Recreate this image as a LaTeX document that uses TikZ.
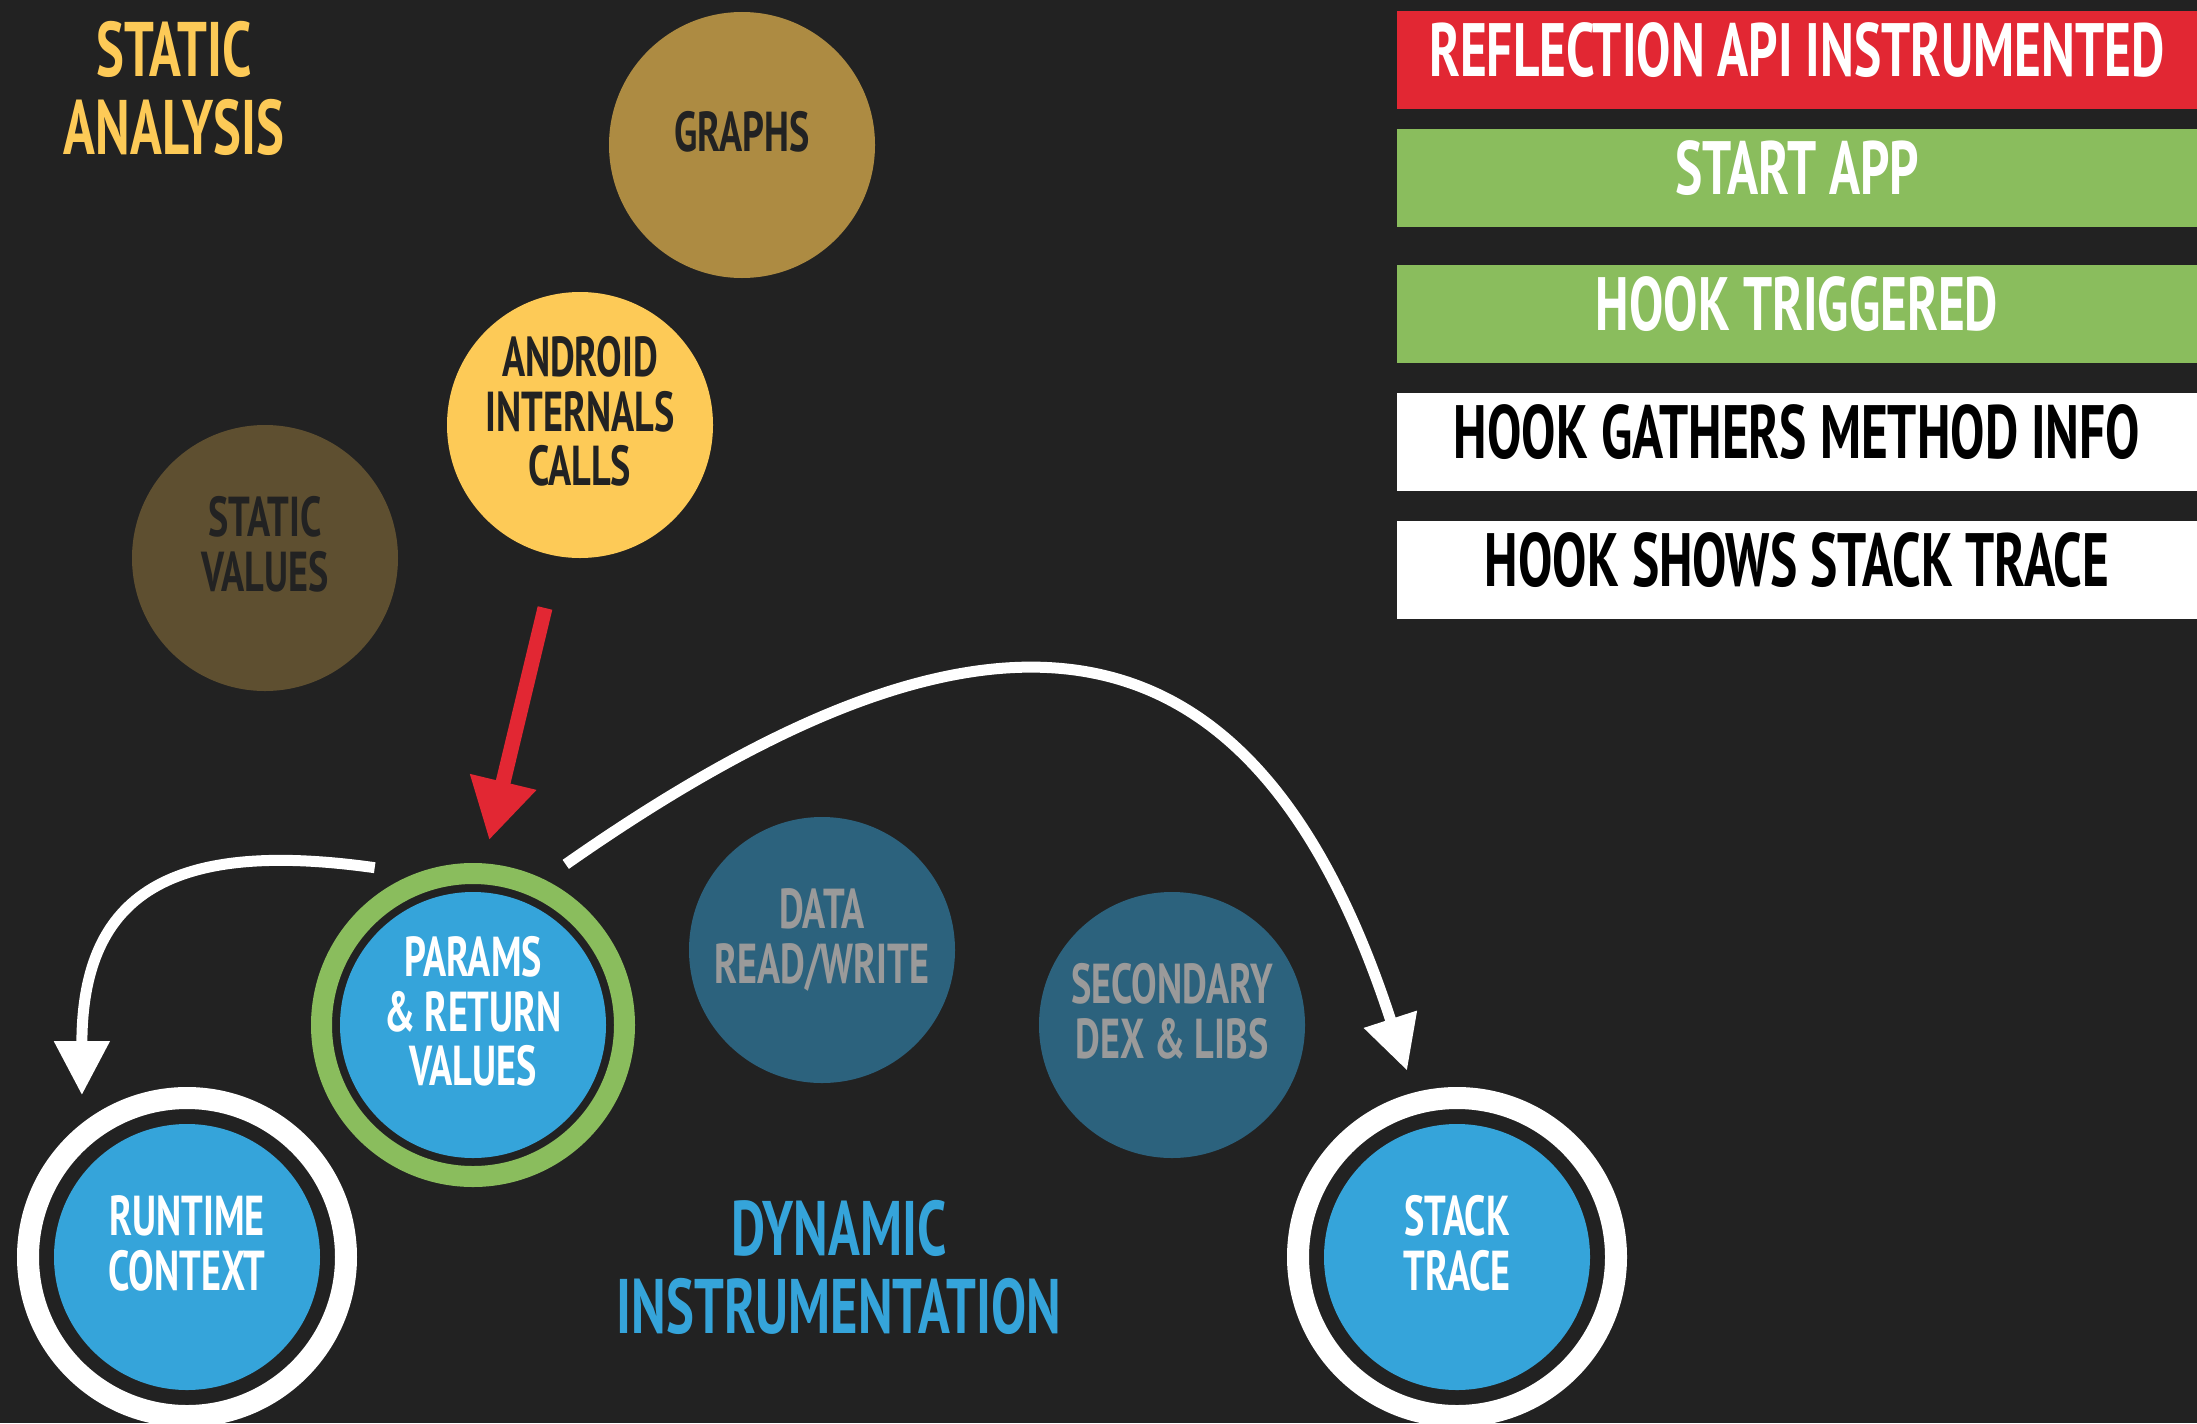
\documentclass[tikz,border=0pt]{standalone}
\usepackage{fontspec}
\setmainfont{PT Sans}[FakeStretch=0.68]
\usepackage{tikz}
\usetikzlibrary{arrows.meta, calc}

\definecolor{bg}{HTML}{222222}
\definecolor{sand}{HTML}{FDCA57}
\definecolor{ochre}{HTML}{AD8B42}
\definecolor{umber}{HTML}{5E4F30}
\definecolor{sky}{HTML}{35A4DA}
\definecolor{deepteal}{HTML}{2C627D}
\definecolor{alarm}{HTML}{E22733}
\definecolor{leaf}{HTML}{8ABD5D}
\definecolor{mist}{HTML}{9A9A9A}

\tikzset{
    bubble/.style={circle, minimum size=2.66cm, inner sep=0pt, align=center, text=bg, text depth=2.8mm,
        font=\bfseries\fontsize{16}{15.6}\selectfont},
    ring/.style={circle, draw=white, line width=2.2mm, minimum size=3.18cm, outer sep=3.4mm},
    banner/.style={minimum width=8cm, minimum height=0.98cm, inner sep=0pt, text depth=2mm,
        font=\bfseries\fontsize{21.5}{22}\selectfont},
    heading/.style={align=center, text depth=0pt, font=\bfseries\fontsize{22}{22.2}\selectfont},
    flow/.style={white, line width=1.1mm, -{Triangle[width=5.3mm,length=5.4mm]}},
}

\begin{document}
\begin{tikzpicture}
    \useasboundingbox (0,0) rectangle (21.97,-14.23);
    \fill[bg] (0,0) rectangle (21.97,-14.23);

    % static side
    \node[heading, text=sand] (static) at (1.74,-0.875) {STATIC\\ANALYSIS};
    \node[bubble, fill=ochre] (graphs) at (7.42,-1.45) {GRAPHS};
    \node[bubble, fill=sand] (android) at (5.80,-4.25) {ANDROID\\INTERNALS\\CALLS};
    \node[bubble, fill=umber] (values) at (2.65,-5.58) {STATIC\\VALUES};

    % dynamic side
    \node[ring, draw=leaf, line width=2.1mm, minimum size=3.03cm] (paramsring) at (4.73,-10.25) {};
    \node[bubble, fill=sky, text=white] (params) at (paramsring) {PARAMS\\\& RETURN\\VALUES};
    \node[bubble, fill=deepteal, text=mist] (data) at (8.22,-9.50) {DATA\\READ/WRITE};
    \node[bubble, fill=deepteal, text=mist] (dex) at (11.72,-10.25) {SECONDARY\\DEX \& LIBS};
    \node[ring] (runtimering) at (1.87,-12.57) {};
    \node[bubble, fill=sky, text=white] (runtime) at (runtimering) {RUNTIME\\CONTEXT};
    \node[ring] (stackring) at (14.57,-12.57) {};
    \node[bubble, fill=sky, text=white] (stack) at (stackring) {STACK\\TRACE};
    \node[heading, text=sky] (dynamic) at (8.39,-12.665) {DYNAMIC\\INSTRUMENTATION};

    \coordinate (redtail) at (5.45,-6.08);
    \draw[alarm, line width=1.5mm, -{Triangle[width=6.4mm,length=6mm]}] (redtail) -- (paramsring.85);
    \draw[flow] (paramsring.122) to[out=172, in=90, looseness=1.4] (runtimering.123);
    \draw[flow] (paramsring.60) to[out=35, in=108, looseness=1.5] (stackring.105);

    % steps
    \node[banner, fill=alarm, text=white] (reflect) at (17.97,-0.60) {REFLECTION API INSTRUMENTED};
    \node[banner, fill=leaf, text=white] (start) at (17.97,-1.78) {START APP};
    \node[banner, fill=leaf, text=white] (trigger) at (17.97,-3.135) {HOOK TRIGGERED};
    \node[banner, fill=white, text=black] (gather) at (17.97,-4.42) {HOOK GATHERS METHOD INFO};
    \node[banner, fill=white, text=black] (trace) at (17.97,-5.70) {HOOK SHOWS STACK TRACE};
\end{tikzpicture}
\end{document}
